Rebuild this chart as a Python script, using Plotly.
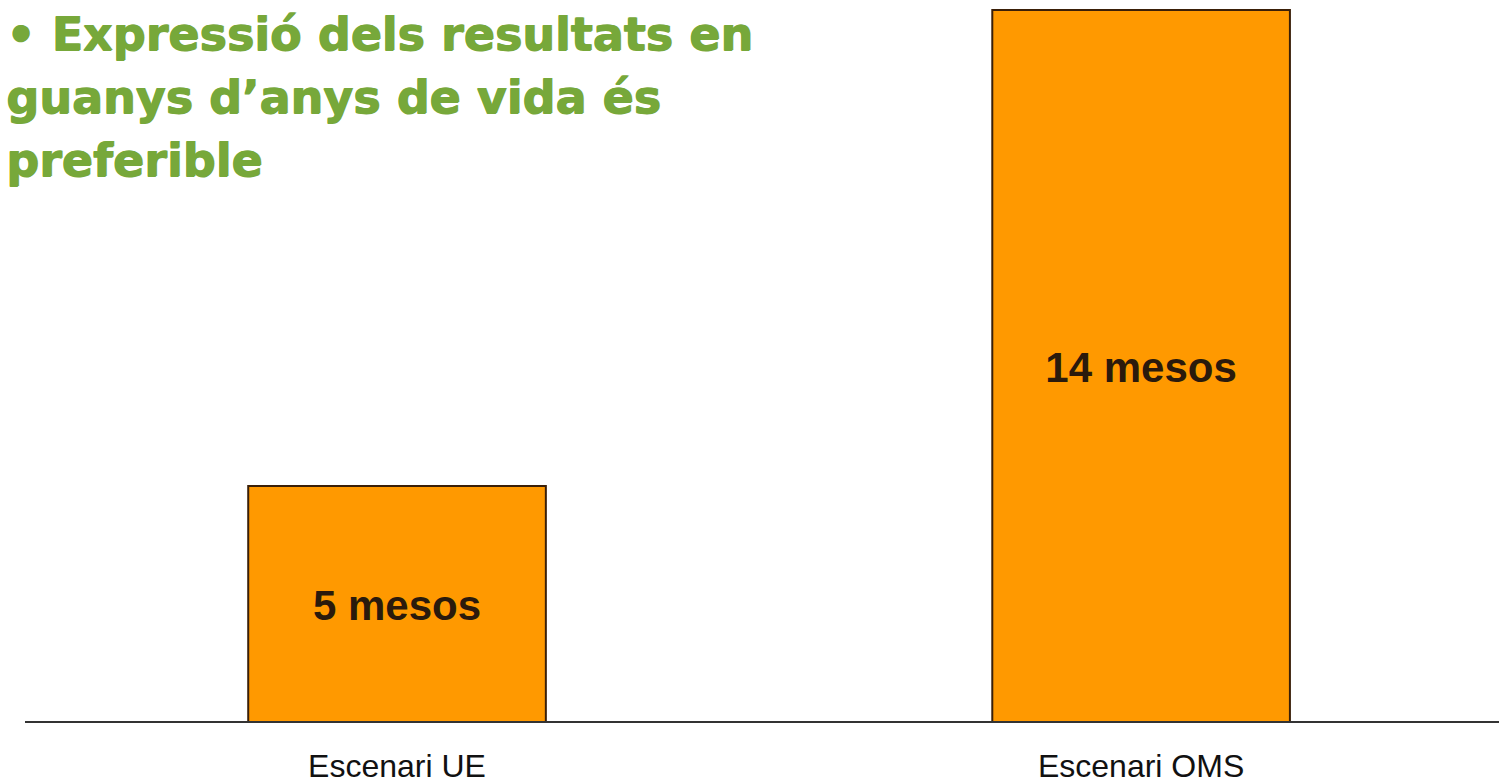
import plotly.graph_objects as go

categories = ["Escenari UE", "Escenari OMS"]
values = [5, 14]
labels = ["5 mesos", "14 mesos"]
title_lines = ["• Expressió dels resultats en", "guanys d’anys de vida és", "preferible"]
title_y = [0.993, 0.906, 0.819]

y_floor = 0.557
y_top = 14.19
label_shift = 0.12  # nudge labels slightly below the visible bar centre

fig = go.Figure()
fig.add_trace(go.Bar(
    x=categories, y=values,
    marker=dict(color="#FF9900", line=dict(color="#3a1f08", width=2)),
    width=0.4, hoverinfo="skip",
))
fig.add_trace(go.Scatter(
    x=categories, y=[(v + y_floor) / 2 - label_shift for v in values], text=labels,
    mode="text", textposition="middle center",
    textfont=dict(family="Liberation Sans", size=42, color="#2a1a0c", weight="bold"),
    hoverinfo="skip",
))

for line, yy in zip(title_lines, title_y):
    fig.add_annotation(
        text=line, xref="paper", yref="paper",
        x=-0.0145, y=yy, xanchor="left", yanchor="top", align="left", showarrow=False,
        font=dict(family="DejaVu Sans", size=46, color="#77A83A", weight="bold",
                  shadow="1px 0 0 #77A83A, 0 1px 0 #77A83A"),
    )

fig.update_layout(
    width=1499, height=784,
    margin=dict(l=25, r=0, t=0, b=63),
    paper_bgcolor="white", plot_bgcolor="white",
    showlegend=False,
    xaxis=dict(range=[-0.5, 1.481], showline=True, linecolor="#333333", linewidth=2,
               showgrid=False, zeroline=False, ticks="", ticklabelstandoff=16,
               automargin=False,
               tickfont=dict(family="Liberation Sans", size=32, color="#111111")),
    yaxis=dict(range=[y_floor, y_top], visible=False, showgrid=False, zeroline=False,
               automargin=False),
)

fig.write_html("out.html", config={"displayModeBar": False},
               post_script="document.body.style.margin='0';document.body.style.overflow='hidden';")
